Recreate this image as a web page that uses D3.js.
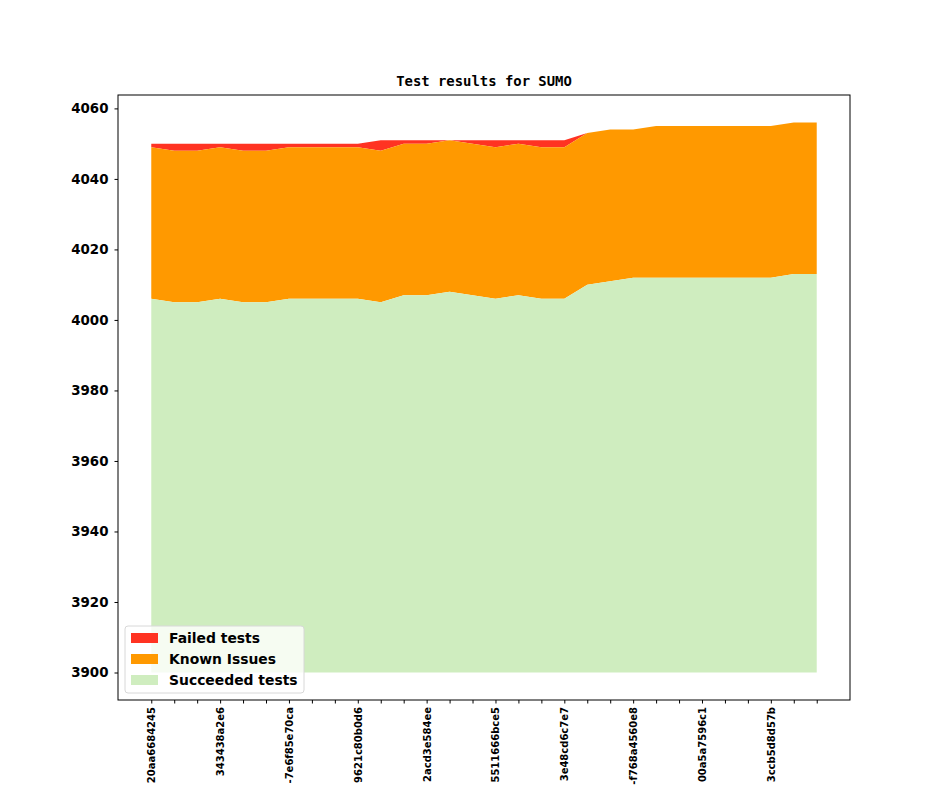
<!DOCTYPE html>
<html><head><meta charset="utf-8">
<script src="https://cdn.jsdelivr.net/npm/d3@7"></script>
<style>body{margin:0;background:#fff;overflow:hidden}</style>
</head><body>
<svg id="c" width="944" height="787"></svg>
<script>
const commits = ["20aa6684245","a","b","343438a2e6","c","d","-7e6f85e70ca","e","f","9621c80b0d6","g","h","2acd3e584ee","i","j","5511666bce5","k","l","3e48cd6c7e7","m","n","-f768a4560e8","o","p","00a5a7596c1","q","r","3ccb5d8d57b","s","t"];
const labelEvery = 3;
const succeeded = [4006,4005,4005,4006,4005,4005,4006,4006,4006,4006,4005,4007,4007,4008,4007,4006,4007,4006,4006,4010,4011,4012,4012,4012,4012,4012,4012,4012,4013,4013];
const knownIssues = [43,43,43,43,43,43,43,43,43,43,43,43,43,43,43,43,43,43,43,43,43,42,43,43,43,43,43,43,43,43];
const failed = [1,2,2,1,2,2,1,1,1,1,3,1,1,0,1,2,1,2,2,0,0,0,0,0,0,0,0,0,0,0];
const baseline = 3900;
const yTicks = [3900,3920,3940,3960,3980,4000,4020,4040,4060];
const seriesNames = ["Failed tests","Known Issues","Succeeded tests"];
const colors = {"Failed tests":"#ff3322","Known Issues":"#ff9900","Succeeded tests":"#cfedbf"};

const svg = d3.select("#c");
const L=118,R=850,T=95,B=700;
const n = succeeded.length;
const xr = [0, n-1], xm = (xr[1]-xr[0])*0.05;
const x = d3.scaleLinear().domain([xr[0]-xm, xr[1]+xm]).range([L,R]);
const idx = d3.range(n);
const top1 = idx.map(i=>succeeded[i]);
const top2 = idx.map(i=>succeeded[i]+knownIssues[i]);
const top3 = idx.map(i=>top2[i]+failed[i]);
const ymax = d3.max(top3), ymin = baseline, ym=(ymax-ymin)*0.05;
const y = d3.scaleLinear().domain([ymin-ym, ymax+ym]).range([B,T]);

const area = (lo,hi)=>d3.area().x(i=>x(i)).y0(i=>y(lo(i))).y1(i=>y(hi(i)));
svg.append("path").datum(idx).attr("fill",colors["Failed tests"]).attr("d",area(i=>top2[i],i=>top3[i]));
svg.append("path").datum(idx).attr("fill",colors["Known Issues"]).attr("d",area(i=>top1[i],i=>top2[i]));
svg.append("path").datum(idx).attr("fill",colors["Succeeded tests"]).attr("d",area(()=>baseline,i=>top1[i]));

const font = "'DejaVu Sans', sans-serif";
const yAxis = svg.append("g").attr("transform",`translate(${L},0)`)
  .call(d3.axisLeft(y).tickValues(yTicks).tickSize(3.5).tickPadding(6).tickFormat(d3.format("d")));
yAxis.select(".domain").remove();
yAxis.selectAll("text").attr("font-family",font).attr("font-weight","bold").attr("font-size",13.4).attr("fill","#000");
yAxis.selectAll("line").attr("stroke","#000");

const xAxis = svg.append("g").attr("transform",`translate(0,${B})`)
  .call(d3.axisBottom(x).tickValues(idx).tickSize(3.5).tickPadding(0)
    .tickFormat(i=> i%labelEvery===0 ? commits[i] : ""));
xAxis.select(".domain").remove();
xAxis.selectAll("line").attr("stroke","#000");
xAxis.selectAll("text").attr("font-family",font).attr("font-weight","bold").attr("font-size",10).attr("fill","#000")
  .attr("text-anchor","end").attr("dy","0.35em").attr("transform","translate(0,7) rotate(-90)").attr("x",0).attr("y",0);

svg.append("rect").attr("x",L).attr("y",T).attr("width",R-L).attr("height",B-T)
  .attr("fill","none").attr("stroke","#000").attr("stroke-width",1);

svg.append("text").attr("x",(L+R)/2).attr("y",86).attr("text-anchor","middle")
  .attr("font-family","'DejaVu Sans Mono', monospace").attr("font-weight","bold").attr("font-size",13.9)
  .text("Test results for SUMO");

const lg = svg.append("g").attr("transform","translate(125,626)");
lg.append("rect").attr("width",179).attr("height",67).attr("rx",3)
  .attr("fill","rgba(255,255,255,0.8)").attr("stroke","#d8d8d8");
seriesNames.forEach((s,k)=>{
  const yy = 12 + k*21;
  lg.append("rect").attr("x",6).attr("y",yy-5).attr("width",27).attr("height",10).attr("fill",colors[s]);
  lg.append("text").attr("x",44).attr("y",yy).attr("dy","0.35em").attr("font-family",font)
    .attr("font-weight","bold").attr("font-size",13.9).text(s);
});
</script>
</body></html>
